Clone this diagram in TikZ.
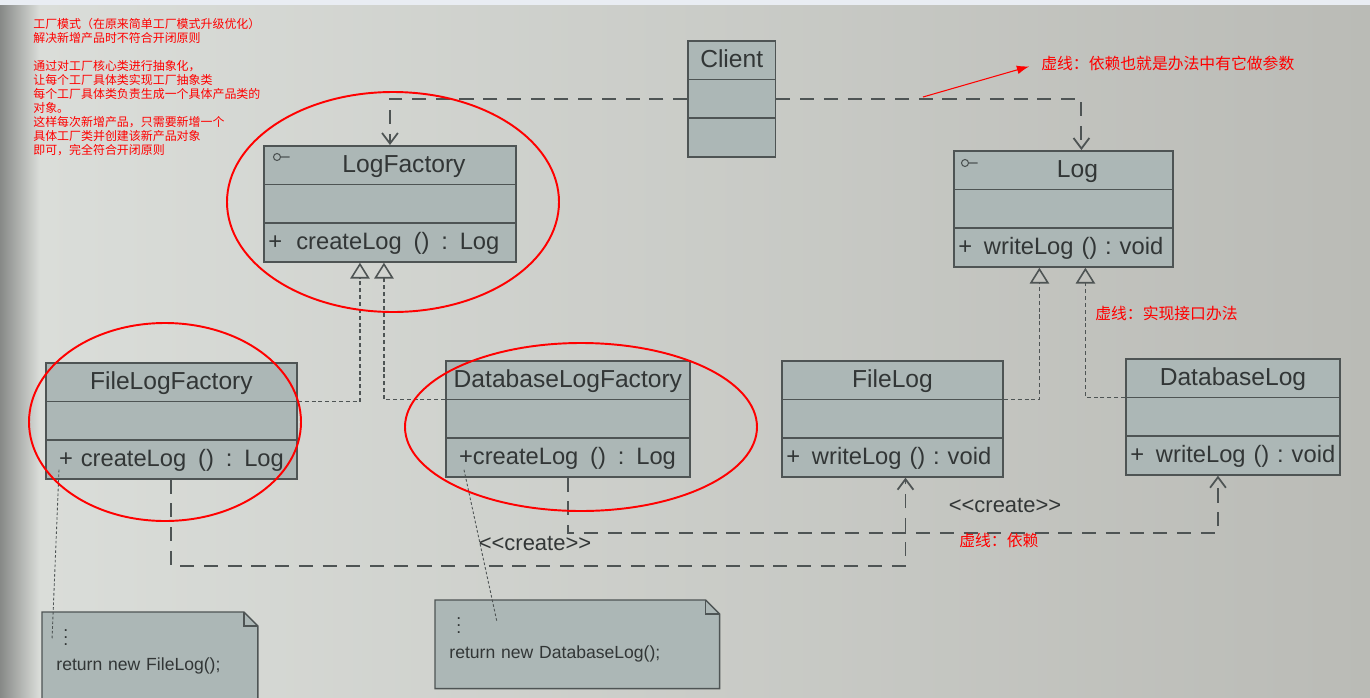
\documentclass[tikz,border=0pt]{standalone}
\usepackage{fontspec}
\setmainfont{Liberation Sans}
\newfontfamily\cjkfont{Noto Sans CJK SC}
\definecolor{umlfill}{RGB}{172,183,182}
\definecolor{umlline}{RGB}{78,84,84}
\definecolor{umltext}{RGB}{50,54,54}
\definecolor{notefill}{RGB}{172,183,182}
\definecolor{paperlight}{RGB}{219,222,218}
\definecolor{paperdark}{RGB}{186,187,182}
\definecolor{papershadow}{RGB}{135,137,135}
\definecolor{papertop}{RGB}{233,237,243}
\definecolor{markred}{RGB}{255,0,0}
\usetikzlibrary{shapes.multipart, arrows.meta, positioning, calc}
\pgfdeclarelayer{paper}
\pgfdeclarelayer{behind}
\pgfsetlayers{paper,behind,main}
\newcommand{\rowstrut}{\rule[-6.5pt]{0pt}{21pt}}
\newcommand{\mgap}{\hspace{0.5em}}
\newcommand{\clsname}[1]{\rowstrut\hfill\mbox{\fontsize{14}{15}\selectfont #1}\hfill\null}

\begin{document}
\begin{tikzpicture}[x=0.02cm, y=-0.02cm,
    umlclass/.style={rectangle split, rectangle split parts=3, draw=umlline, line width=1pt, fill=umlfill, text=umltext, anchor=north west, inner xsep=2.5pt, inner ysep=0pt, text width=#1, align=left, font=\fontsize{13.5}{15}\selectfont},
    depline/.style={draw=umlline, line width=1.1pt, dash pattern=on 8pt off 5.5pt, -{Straight Barb[length=6pt, width=9pt, line width=1pt]}},
    realline/.style={draw=umlline, line width=0.8pt, dash pattern=on 2.3pt off 1.6pt, -{Triangle[open, length=9pt, width=11pt, line width=0.9pt]}},
    noteline/.style={draw=umlline, line width=0.5pt, dash pattern=on 1.5pt off 1.2pt},
    notebox/.style={anchor=north west, inner xsep=8pt, inner ysep=0pt, text width=#1, text height=19pt, text depth=31pt, align=left, text=umltext, font=\fontsize{10}{13}\selectfont},
    stereo/.style={text=umltext, font=\fontsize{12.5}{14}\selectfont},
    redtext/.style={text=markred, anchor=west, inner sep=0pt, font=\cjkfont\fontsize{9}{11}\selectfont},
    redring/.style={draw=markred, line width=1.1pt}]
  \useasboundingbox (0,0) rectangle (1370,697);
  \begin{pgfonlayer}{paper}
    \fill[left color=paperlight, right color=paperdark] (0,0) rectangle (1370,697);
    \fill[left color=papershadow, right color=paperlight] (0,0) rectangle (40,697);
    \fill[papertop] (0,0) rectangle (1370,5);
  \end{pgfonlayer}

  \node (client) [umlclass=44.9pt] at (687,40) {\clsname{Client}\nodepart{two}\rowstrut\nodepart{three}\rowstrut};
  \node (lf) [umlclass=138.5pt] at (263,145) {\clsname{\hspace*{16pt}LogFactory}\nodepart{two}\rowstrut\nodepart{three}\rowstrut+\hspace{0.6em}createLog\mgap()\mgap:\mgap Log};
  \node (log) [umlclass=119.7pt] at (953,150) {\clsname{\hspace*{16pt}Log}\nodepart{two}\rowstrut\nodepart{three}\rowstrut+\enspace writeLog~()~:~void};
  \node (flf) [umlclass=137.9pt] at (45,362) {\clsname{FileLogFactory}\nodepart{two}\rowstrut\nodepart{three}\rowstrut\hspace*{5pt}+~createLog\mgap()\mgap:\mgap Log};
  \node (dlf) [umlclass=133.9pt] at (445,360) {\clsname{DatabaseLogFactory}\nodepart{two}\rowstrut\nodepart{three}\rowstrut\hspace*{5pt}+createLog\mgap()\mgap:\mgap Log};
  \node (fl) [umlclass=120.9pt] at (781,360) {\clsname{FileLog}\nodepart{two}\rowstrut\nodepart{three}\rowstrut+\enspace writeLog~()~:~void};
  \node (dl) [umlclass=116.9pt] at (1125,358) {\clsname{DatabaseLog}\nodepart{two}\rowstrut\nodepart{three}\rowstrut+\enspace writeLog~()~:~void};

  \draw[umlline, line width=0.6pt] ($(lf.north west)+(14,12)$) circle [radius=2pt] ++(2pt,0) -- ++(9,0);
  \draw[umlline, line width=0.6pt] ($(log.north west)+(12,13)$) circle [radius=2pt] ++(2pt,0) -- ++(9,0);

  \node (filenote) [notebox=106.5pt] at (42,612) {\hspace*{4pt}$\vdots$\\[1pt]return new FileLog();};
  \node (dbnote) [notebox=145.6pt] at (435,600) {\hspace*{4pt}$\vdots$\\[1pt]return new DatabaseLog();};
  \begin{pgfonlayer}{behind}
    \foreach \n in {filenote, dbnote} {
      \draw[umlline, line width=0.8pt, fill=notefill] (\n.south west) -- (\n.north west) -- ($(\n.north east)+(-14,0)$) -- ($(\n.north east)+(0,14)$) -- (\n.south east) -- cycle;
      \draw[umlline, line width=0.8pt] ($(\n.north east)+(-14,0)$) -- ++(0,14) -- ++(14,0);
    }
  \end{pgfonlayer}

  \draw[depline] (client.west) -| (lf.north);
  \draw[depline] (client.east) -| ($(log.north)+(18,0)$);
  \draw[realline] (flf.text split east) -| ($(lf.south)+(-30,0)$);
  \draw[realline] (dlf.text split west) -| ($(lf.south)+(-6,0)$);
  \draw[realline] (fl.text split east) -| ($(log.south)+(-24,0)$);
  \draw[realline] (dl.text split west) -| ($(log.south)+(22,0)$);
  \draw[depline] (flf.south) -- ++(0,86) -| ($(fl.south)+(13,0)$);
  \draw[depline] (dlf.south) -- ++(0,55) -| ($(dl.south)+(-15,0)$);
  \draw[noteline] ($(flf.south west)+(14,-10)$) -- ($(filenote.north west)+(10,28)$);
  \draw[noteline] ($(dlf.south west)+(19,-8)$) -- ($(dbnote.north west)+(62,22)$);

  \node (mk1) [stereo] at (535,544) {{<}{<}create{>}{>}};
  \node (mk2) [stereo] at (1005,506) {{<}{<}create{>}{>}};

  \draw[redring] (393,202) ellipse [x radius=166, y radius=110];
  \draw[redring] (165,422) ellipse [x radius=136, y radius=99];
  \draw[redring] (581,427) ellipse [x radius=176, y radius=84];

  \node (intro) [text=markred, anchor=north west, inner sep=0pt, align=left, font=\cjkfont\fontsize{6.8}{7.94}\selectfont] at (33,18) {工厂模式（在原来简单工厂模式升级优化）\\解决新增产品时不符合开闭原则\\~\\通过对工厂核心类进行抽象化，\\让每个工厂具体类实现工厂抽象类\\每个工厂具体类负责生成一个具体产品类的\\对象。\\这样每次新增产品，只需要新增一个\\具体工厂类并创建该新产品对象\\即可，完全符合开闭原则};
  \node (depnote) [redtext] at (1041,63) {虚线：依赖也就是办法中有它做参数};
  \node (implnote) [redtext] at (1095,313) {虚线：实现接口办法};
  \node (usenote) [redtext] at (959,540) {虚线：依赖};
  \coordinate (pointer) at (923,97);
  \draw[markred, line width=0.6pt, -{Latex[length=7pt, width=5pt]}, shorten >=7pt] (pointer) -- (depnote.west);
\end{tikzpicture}
\end{document}
